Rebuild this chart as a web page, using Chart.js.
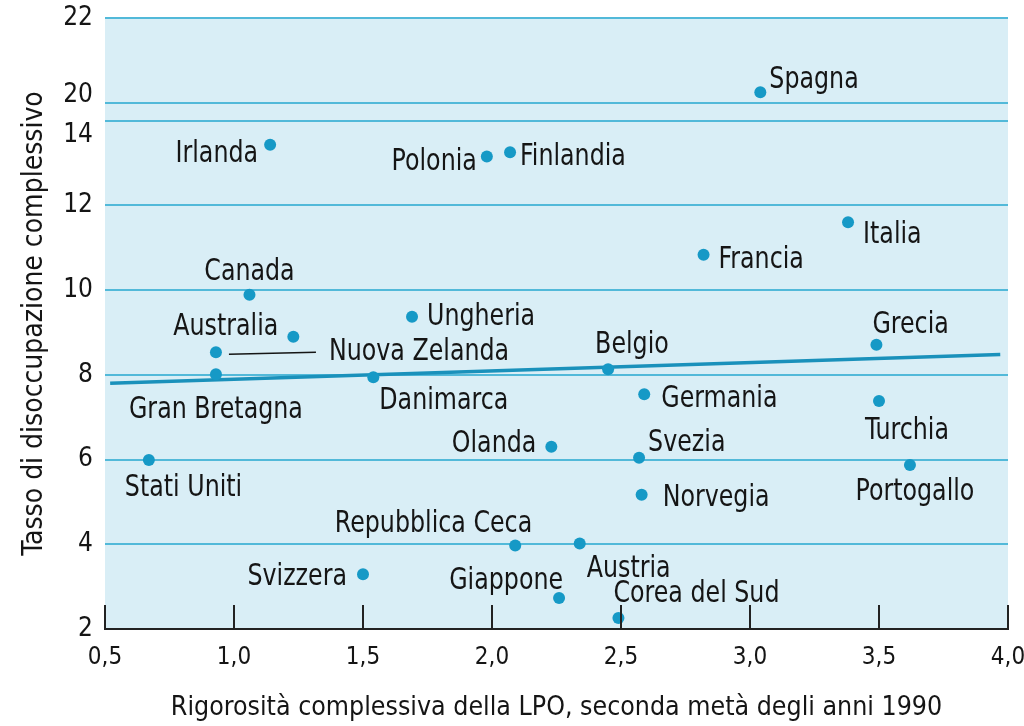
<!DOCTYPE html>
<html lang="it">
<head>
<meta charset="UTF-8">
<title>LPO e disoccupazione</title>
<script src="https://cdn.jsdelivr.net/npm/chart.js@4.4.1/dist/chart.umd.min.js"></script>
<style>
    html, body { margin: 0; padding: 0; background: #fff; }
    #wrap { width: 1024px; height: 726px; }
</style>
</head>
<body>
<div id="wrap"><canvas id="chart" width="1024" height="726"></canvas></div>
<script>
// Paesi, rigorosità LPO (asse x) e tasso di disoccupazione (asse y)
const countries = ['Spagna', 'Irlanda', 'Polonia', 'Finlandia', 'Italia', 'Francia', 'Canada',
    'Ungheria', 'Australia', 'Nuova Zelanda', 'Gran Bretagna', 'Danimarca', 'Belgio', 'Grecia',
    'Germania', 'Turchia', 'Olanda', 'Svezia', 'Stati Uniti', 'Portogallo', 'Norvegia',
    'Repubblica Ceca', 'Austria', 'Svizzera', 'Giappone', 'Corea del Sud'];
const lpo = [3.04, 1.14, 1.98, 2.07, 3.38, 2.82, 1.06,
    1.69, 1.23, 0.93, 0.93, 1.54, 2.45, 3.49,
    2.59, 3.50, 2.23, 2.57, 0.67, 3.62, 2.58,
    2.09, 2.34, 1.50, 2.26, 2.49];
const unemployment = [20.25, 13.43, 13.15, 13.25, 11.6, 10.83, 9.89,
    9.37, 8.9, 8.53, 8.01, 7.94, 8.13, 8.71,
    7.54, 7.38, 6.3, 6.04, 5.99, 5.87, 5.17,
    3.97, 4.02, 3.29, 2.73, 2.26];

// retta di regressione
const trendX = [0.52, 3.97];
const trendY = [7.80, 8.48];

const xTicks = [0.5, 1.0, 1.5, 2.0, 2.5, 3.0, 3.5, 4.0];
const yTicks = [2, 4, 6, 8, 10, 12, 14, 20, 22];

// asse y spezzato: tra 14 e 20 resta solo un piccolo intervallo
const GAP = 0.42;
function brk(v) { return v >= 17 ? v - 6 + GAP : v; }

const FONT = "'Liberation Sans Narrow', 'DejaVu Sans Condensed', sans-serif";
Chart.defaults.font.family = FONT;
Chart.defaults.color = '#151515';

// posizione delle etichette rispetto al punto: [dx, dy baseline, allineamento]
const labelPos = {
    'Spagna': [9, -4, 'left'],
    'Irlanda': [-12, 17, 'right'],
    'Polonia': [-10, 13, 'right'],
    'Finlandia': [10, 13, 'left'],
    'Italia': [15, 21, 'left'],
    'Francia': [15, 13, 'left'],
    'Canada': [0, -15, 'center'],
    'Ungheria': [15, 8, 'left'],
    'Australia': [-15, -2, 'right'],
    'Nuova Zelanda': [113, 8, 'left'],
    'Gran Bretagna': [0, 44, 'center'],
    'Danimarca': [6, 32, 'left'],
    'Belgio': [-13, -16, 'left'],
    'Grecia': [-4, -12, 'left'],
    'Germania': [17, 13, 'left'],
    'Turchia': [-14, 38, 'left'],
    'Olanda': [-15, 5, 'right'],
    'Svezia': [9, -7, 'left'],
    'Stati Uniti': [-24, 36, 'left'],
    'Portogallo': [5, 35, 'center'],
    'Norvegia': [21, 11, 'left'],
    'Repubblica Ceca': [17, -14, 'right'],
    'Austria': [7, 34, 'left'],
    'Svizzera': [-16, 11, 'right'],
    'Giappone': [4, -9, 'right'],
    'Corea del Sud': [-5, -16, 'left']
};

const bgPlugin = {
    id: 'bg',
    beforeDraw(chart) {
        const a = chart.chartArea, ctx = chart.ctx;
        ctx.save();
        ctx.fillStyle = '#d9eef6';
        ctx.fillRect(a.left, a.top, a.right - a.left, a.bottom - a.top);
        ctx.restore();
    }
};

// trattini verticali dell'asse x, rivolti verso l'interno
const tickMarks = {
    id: 'tickMarks',
    afterDraw(chart) {
        const sx = chart.scales.x, ctx = chart.ctx, b = chart.chartArea.bottom;
        ctx.save();
        ctx.strokeStyle = '#222';
        ctx.lineWidth = 2;
        sx.ticks.forEach(t => {
            const px = Math.round(sx.getPixelForValue(t.value));
            ctx.beginPath();
            ctx.moveTo(px, b);
            ctx.lineTo(px, b - 24);
            ctx.stroke();
        });
        ctx.restore();
    }
};

const labelsPlugin = {
    id: 'countryLabels',
    afterDatasetsDraw(chart) {
        const ctx = chart.ctx;
        const pts = chart.getDatasetMeta(0).data;
        ctx.save();
        ctx.font = '30px ' + FONT;
        ctx.fillStyle = '#151515';
        ctx.textBaseline = 'alphabetic';
        pts.forEach((p, i) => {
            const name = countries[i];
            const [dx, dy, align] = labelPos[name];
            // testo leggermente compresso, come il carattere condensato dell'originale
            ctx.save();
            ctx.translate(p.x + dx, p.y + dy);
            ctx.scale(0.88, 1);
            ctx.textAlign = align;
            ctx.fillText(name, 0, 0);
            ctx.restore();
            if (name === 'Nuova Zelanda') {
                ctx.strokeStyle = '#151515';
                ctx.lineWidth = 1.5;
                ctx.beginPath();
                ctx.moveTo(p.x + 13, p.y + 2);
                ctx.lineTo(p.x + 100, p.y);
                ctx.stroke();
            }
        });
        ctx.restore();
    }
};

// etichette 20 e 14 spostate per non sovrapporsi vicino all'interruzione
function yLabel(v, i) {
    const t = String(yTicks[i]);
    if (yTicks[i] === 20) return [t, ''];
    if (yTicks[i] === 14) return ['', '', t];
    return t;
}

const ctx = document.getElementById('chart').getContext('2d');
new Chart(ctx, {
    type: 'scatter',
    data: {
        datasets: [{
            data: countries.map((c, i) => ({ x: lpo[i], y: brk(unemployment[i]) })),
            backgroundColor: '#1699c6',
            pointRadius: 6,
            pointHoverRadius: 6,
            pointBorderWidth: 0
        }, {
            type: 'line',
            data: trendX.map((x, i) => ({ x: x, y: brk(trendY[i]) })),
            borderColor: '#1a91bb',
            borderWidth: 3.5,
            pointRadius: 0,
            fill: false
        }]
    },
    options: {
        responsive: false,
        animation: false,
        layout: { padding: { top: 18, right: 16, left: 0, bottom: 0 } },
        plugins: {
            legend: { display: false },
            tooltip: { enabled: false }
        },
        scales: {
            x: {
                type: 'linear',
                min: 0.5,
                max: 4.0,
                afterBuildTicks: s => { s.ticks = xTicks.map(v => ({ value: v })); },
                afterFit: s => {
                    s.height = 97;
                    s.paddingLeft = 0;
                    s.paddingRight = 0;
                },
                ticks: {
                    callback: v => v.toFixed(1).replace('.', ','),
                    font: { size: 24 },
                    padding: 14,
                    maxRotation: 0,
                    autoSkip: false
                },
                grid: { display: false, drawTicks: false },
                border: { display: true, color: '#222', width: 2 },
                title: {
                    display: true,
                    text: 'Rigorosità complessiva della LPO, seconda metà degli anni 1990',
                    font: { size: 26.5 },
                    padding: { top: 0, bottom: 2 }
                }
            },
            y: {
                type: 'linear',
                min: 2,
                max: brk(22),
                afterBuildTicks: s => { s.ticks = yTicks.map(v => ({ value: brk(v) })); },
                afterFit: s => {
                    s.width = 105;
                    s.paddingTop = 0;
                    s.paddingBottom = 0;
                },
                ticks: {
                    callback: yLabel,
                    font: { size: 26, lineHeight: 0.58 },
                    padding: 12,
                    autoSkip: false
                },
                grid: {
                    color: c => (c.tick && c.tick.value === 2) ? 'rgba(0,0,0,0)' : '#52b9d9',
                    lineWidth: 2,
                    drawTicks: false
                },
                border: { display: false },
                title: {
                    display: true,
                    text: 'Tasso di disoccupazione complessivo',
                    font: { size: 28 },
                    padding: { top: 18, bottom: 0 }
                }
            }
        }
    },
    plugins: [bgPlugin, tickMarks, labelsPlugin]
});
</script>
</body>
</html>
